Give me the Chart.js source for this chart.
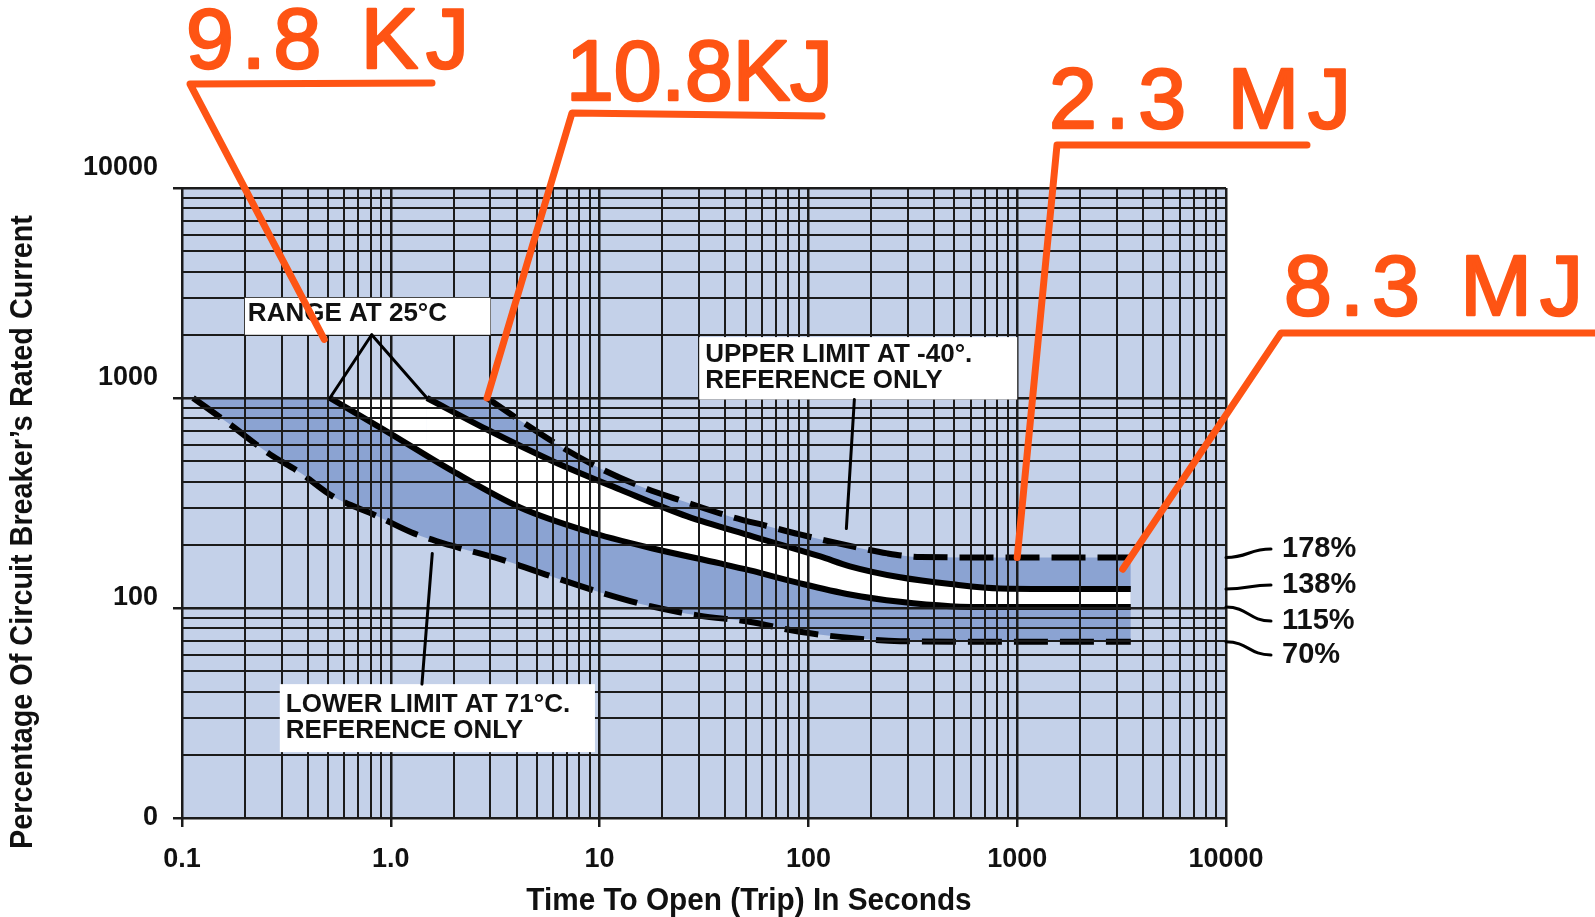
<!DOCTYPE html>
<html><head><meta charset="utf-8">
<style>html,body{margin:0;padding:0;background:#fff;}canvas{display:block;}</style>
<script src="https://cdn.jsdelivr.net/npm/chart.js@4.4.1/dist/chart.umd.min.js"></script>
</head><body>
<canvas id="c" width="1595" height="917"></canvas>
<script>
// ---------- DATA ----------
// Range at 25°C – upper curve (ends ~138%)
const upperSolidX = [1.49, 2.89, 6.0, 12.5, 26.3, 54.4, 114, 158, 275, 479, 830, 3500];
const upperSolidY = [1000, 708, 499, 367, 273, 219, 176, 158, 140, 130, 124, 123];
// Range at 25°C – lower curve (ends ~115%)
const lowerSolidX = [0.511, 0.959, 1.99, 4.16, 8.71, 18.0, 37.8, 52.6, 91.4, 158, 275, 479, 830, 3500];
const lowerSolidY = [1000, 692, 447, 301, 232, 192, 163, 151, 131, 116, 107, 102, 101, 101];
// Upper limit at -40° (dashed, ends ~178%)
const upperDashX = [2.89, 4.16, 6.5, 10.3, 16.2, 25.2, 42, 64, 91, 164, 239, 343, 830, 3500];
const upperDashY = [1000, 782, 588, 457, 375, 322, 273, 245, 224, 196, 182, 175, 174, 174];
// Lower limit at 71°C (dashed, ends ~70%)
const lowerDashX = [0.113, 0.17, 0.264, 0.367, 0.528, 0.868, 1.26, 1.92, 3.34, 5.8, 10, 17.5, 30, 52, 91, 160, 275, 830, 3500];
const lowerDashY = [1000, 748, 539, 442, 340, 273, 229, 199, 171, 142, 119, 102, 92, 86, 77, 72, 69.5, 69, 69];

// Axis ticks
const xTickValues = [0.1, 1, 10, 100, 1000, 10000];
const xTickLabels = ['0.1', '1.0', '10', '100', '1000', '10000'];
const yTickValues = [10, 100, 1000, 10000];
const yTickLabels = ['0', '100', '1000', '10000'];

// Annotation anchors (data units)
const rangeApex = [0.81, 2000];
const upperNoteArrow = [[166, 984], [152, 239]];
const lowerNoteArrow = [[1.58, 182], [1.41, 43.4]];
const rangeBox = [[0.2, 3000], [3, 2000]];
const upperBox = [[30, 1950], [1000, 984]];
const lowerBox = [[0.294, 43.4], [9.5, 20.6]];
const rangeText = ['RANGE AT 25°C'];
const upperText = ['UPPER LIMIT AT -40°.', 'REFERENCE ONLY'];
const lowerText = ['LOWER LIMIT AT 71°C.', 'REFERENCE ONLY'];

// Energy callouts
const calloutTexts = ['9.8 KJ', '10.8KJ', '2.3 MJ', '8.3 MJ'];
const calloutTargets = [[0.48, 1900], [2.89, 1000], [1000, 174], [3200, 153]];
// Percentage end labels
const pctLabels = ['178%', '138%', '115%', '70%'];
const pctValues = [174, 123, 101, 69];

// ---------- STYLE / LAYOUT ----------
const BG = '#c4d1e9', BAND = '#8ba3d2', GRID = '#1b1b1b', ORANGE = '#fe5414';
const FONT = '"Liberation Sans", Arial, Helvetica, sans-serif';
const calloutLayout = [
  {left: 186, right: 469, base: 68,  ul: [190, 84, 432, 83]},
  {left: 566, right: 833, base: 100, ul: [572, 113, 822, 116]},
  {left: 1049, right: 1351, base: 128, ul: [1057, 145, 1307, 145]},
  {left: 1284, right: 1583, base: 315, ul: [1281, 333, 1600, 333]}
];
const pctLayout = {x: 1282, ys: [549, 585, 621, 655], lx: 1271};
// extra blank lines lift a y tick label (per label) above its grid line
const yLabelLift = {10: 0, 100: 1, 1000: 2, 10000: 2};

const pts = (xs, ys) => xs.map((x, i) => ({x, y: ys[i]}));
function expandTicks(majors) {
  const out = [];
  for (let i = 0; i < majors.length - 1; i++)
    for (let m = 1; m < 10; m++) out.push(+(majors[i] * m).toPrecision(6));
  out.push(majors[majors.length - 1]);
  return out;
}
const isIn = (v, arr) => arr.some(a => Math.abs(a - v) / a < 1e-6);
const labelOf = (v, vals, labs) => { const i = vals.findIndex(a => Math.abs(a - v) / a < 1e-6); return i >= 0 ? labs[i] : ''; };

const lineBase = {pointRadius: 0, pointHoverRadius: 0, borderColor: '#000', borderWidth: 6, cubicInterpolationMode: 'monotone', borderCapStyle: 'butt'};

const bgPlugin = {
  id: 'bg',
  beforeDraw(chart) {
    const {ctx, chartArea: a} = chart;
    ctx.save();
    ctx.fillStyle = '#fff'; ctx.fillRect(0, 0, chart.width, chart.height);
    ctx.fillStyle = BG; ctx.fillRect(a.left, a.top, a.right - a.left, a.bottom - a.top);
    ctx.restore();
  }
};

const annPlugin = {
  id: 'ann',
  afterDraw(chart) {
    const {ctx, chartArea: a} = chart;
    const xs = chart.scales.x, ys = chart.scales.y;
    const px = v => xs.getPixelForValue(v), py = v => ys.getPixelForValue(v);
    ctx.save();
    // white note boxes
    const drawBox = (box, lines, pad, first, lh) => {
      const l = px(box[0][0]), t = py(box[0][1]), r = px(box[1][0]), b = py(box[1][1]);
      ctx.fillStyle = '#fff'; ctx.fillRect(l, t, r - l, b - t);
      ctx.fillStyle = '#111'; ctx.font = 'bold 26px ' + FONT; ctx.textAlign = 'left'; ctx.textBaseline = 'alphabetic';
      lines.forEach((s, i) => ctx.fillText(s, l + pad, t + first + i * lh));
    };
    drawBox(rangeBox, rangeText, 3, 23, 26);
    drawBox(upperBox, upperText, 6, 25, 26);
    drawBox(lowerBox, lowerText, 6, 28, 26);
    // black arrows
    ctx.strokeStyle = '#000'; ctx.lineWidth = 3; ctx.lineCap = 'round';
    const seg = (p, q) => { ctx.beginPath(); ctx.moveTo(px(p[0]), py(p[1])); ctx.lineTo(px(q[0]), py(q[1])); ctx.stroke(); };
    seg(rangeApex, [lowerSolidX[0], lowerSolidY[0]]);
    seg(rangeApex, [upperSolidX[0], upperSolidY[0]]);
    seg(upperNoteArrow[0], upperNoteArrow[1]);
    seg(lowerNoteArrow[0], lowerNoteArrow[1]);
    // percentage labels with leaders
    ctx.lineWidth = 3;
    pctLabels.forEach((s, i) => {
      const sx = a.right, sy = py(pctValues[i]);
      const ex = pctLayout.lx, ey = pctLayout.ys[i];
      ctx.beginPath(); ctx.moveTo(sx, sy);
      ctx.bezierCurveTo(sx + 22, sy, ex - 22, ey, ex, ey); ctx.stroke();
      ctx.fillStyle = '#111'; ctx.font = 'bold 29px ' + FONT; ctx.textAlign = 'left'; ctx.textBaseline = 'middle';
      ctx.fillText(s, pctLayout.x, ey);
    });
    // axis titles
    ctx.fillStyle = '#111'; ctx.textAlign = 'center'; ctx.textBaseline = 'alphabetic';
    ctx.font = 'bold 32px ' + FONT;
    ctx.save(); ctx.translate(749, 910); ctx.scale(0.93, 1);
    ctx.fillText('Time To Open (Trip) In Seconds', 0, 0); ctx.restore();
    ctx.save(); ctx.translate(32, 532); ctx.rotate(-Math.PI / 2); ctx.scale(0.9, 1);
    ctx.fillText('Percentage Of Circuit Breaker\u2019s Rated Current', 0, 0); ctx.restore();
    // orange energy callouts
    ctx.strokeStyle = ORANGE; ctx.fillStyle = ORANGE; ctx.lineCap = 'round'; ctx.lineJoin = 'round';
    calloutTexts.forEach((s, i) => {
      const L = calloutLayout[i];
      ctx.font = '86px ' + FONT; ctx.textAlign = 'left'; ctx.textBaseline = 'alphabetic';
      ctx.letterSpacing = '0px';
      const w0 = ctx.measureText(s).width;
      const sp = (L.right - L.left - w0) / (s.length - 1);
      ctx.lineWidth = 2.5;
      if ('letterSpacing' in ctx) {
        ctx.letterSpacing = sp + 'px';
        ctx.fillText(s, L.left, L.base);
        ctx.strokeText(s, L.left, L.base);
        ctx.letterSpacing = '0px';
      } else {
        let x = L.left;
        for (const ch of s) { ctx.fillText(ch, x, L.base); ctx.strokeText(ch, x, L.base); x += ctx.measureText(ch).width + sp; }
      }
      ctx.lineWidth = 7;
      const [x1, y1, x2, y2] = L.ul;
      const tx = px(calloutTargets[i][0]), ty = py(calloutTargets[i][1]);
      ctx.beginPath(); ctx.moveTo(x2, y2); ctx.lineTo(x1, y1); ctx.lineTo(tx, ty); ctx.stroke();
    });
    ctx.restore();
  }
};

const gridOpts = (majors) => ({
  z: 1,
  color: GRID,
  lineWidth: c => (c.tick && isIn(c.tick.value, majors)) ? 2.5 : 2,
  tickColor: c => (c.tick && isIn(c.tick.value, majors)) ? GRID : 'rgba(0,0,0,0)',
  tickLength: 9,
  drawTicks: true
});

new Chart(document.getElementById('c'), {
  type: 'line',
  data: {
    datasets: [
      Object.assign({label: 'Range at 25°C (upper)', data: pts(upperSolidX, upperSolidY), fill: 1, backgroundColor: '#ffffff'}, lineBase),
      Object.assign({label: 'Range at 25°C (lower)', data: pts(lowerSolidX, lowerSolidY), fill: false}, lineBase),
      Object.assign({label: 'Upper limit at -40°', data: pts(upperDashX, upperDashY), fill: 3, backgroundColor: BAND, borderDash: [34, 12]}, lineBase),
      Object.assign({label: 'Lower limit at 71°C', data: pts(lowerDashX, lowerDashY), fill: false, borderDash: [34, 12]}, lineBase),
      {label: 'range cap', data: [{x: lowerSolidX[0], y: lowerSolidY[0]}, {x: upperSolidX[0], y: upperSolidY[0]}], fill: 1, backgroundColor: '#ffffff', borderColor: 'rgba(0,0,0,0)', borderWidth: 1, pointRadius: 0},
      {label: 'limit cap', data: [{x: lowerDashX[0], y: lowerDashY[0]}, {x: upperDashX[0], y: upperDashY[0]}], fill: 3, backgroundColor: BAND, borderColor: 'rgba(0,0,0,0)', borderWidth: 1, pointRadius: 0}
    ]
  },
  options: {
    responsive: false,
    animation: false,
    devicePixelRatio: 1,
    layout: {padding: {left: 0, top: 188, right: 369, bottom: 0}},
    plugins: {
      legend: {display: false},
      tooltip: {enabled: false},
      filler: {drawTime: 'beforeDatasetsDraw', propagate: false}
    },
    scales: {
      x: {
        type: 'logarithmic', min: 0.1, max: 10000,
        afterBuildTicks: s => { s.ticks = expandTicks(xTickValues).map(v => ({value: v, major: isIn(v, xTickValues)})); },
        afterFit: s => { s.height = 99; },
        grid: gridOpts(xTickValues),
        border: {display: true, color: GRID, width: 2, z: 1},
        ticks: {
          autoSkip: false, maxRotation: 0, minRotation: 0, padding: 16, z: 1,
          color: '#111', font: {family: 'Liberation Sans', size: 27, weight: 'bold'},
          callback: v => labelOf(v, xTickValues, xTickLabels)
        }
      },
      y: {
        type: 'logarithmic', min: 10, max: 10000,
        afterBuildTicks: s => { s.ticks = expandTicks(yTickValues).map(v => ({value: v, major: isIn(v, yTickValues)})); },
        afterFit: s => { s.width = 182; },
        grid: gridOpts(yTickValues),
        border: {display: true, color: GRID, width: 2, z: 1},
        ticks: {
          autoSkip: false, padding: 15, z: 1, labelOffset: 0,
          color: '#111', font: {family: 'Liberation Sans', size: 27, weight: 'bold', lineHeight: 0.76},
          callback: v => {
            const s = labelOf(v, yTickValues, yTickLabels);
            if (!s) return '';
            const k = yLabelLift[v] || 0;
            return k ? [s].concat(new Array(k).fill('')) : s;
          }
        }
      }
    }
  },
  plugins: [bgPlugin, annPlugin]
});
</script>
</body></html>
